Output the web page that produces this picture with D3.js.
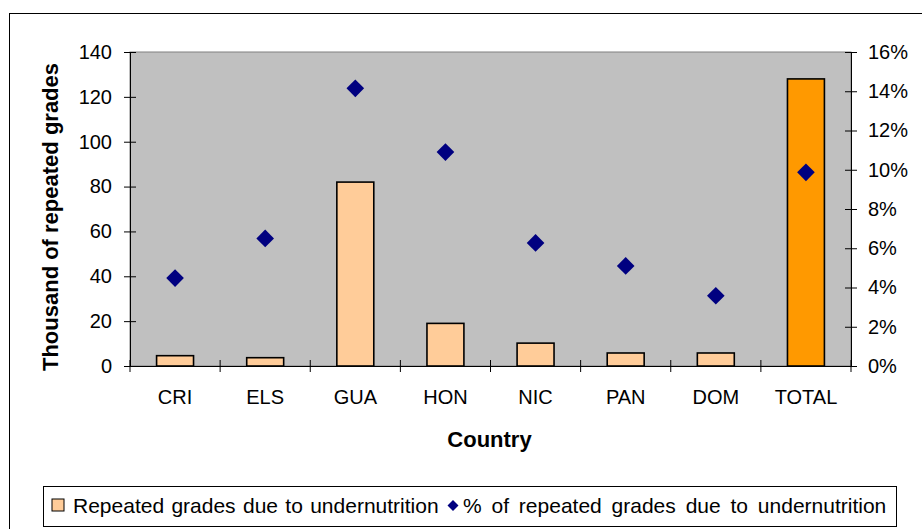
<!DOCTYPE html>
<html><head><meta charset="utf-8">
<script src="https://cdn.jsdelivr.net/npm/d3@7"></script>
<style>body{margin:0;background:#fff}text{font-family:"Liberation Sans",Arial,sans-serif}</style>
</head><body><svg id="c" width="922" height="529"></svg>
<script>
const categories = ["CRI","ELS","GUA","HON","NIC","PAN","DOM","TOTAL"];
const repeatedGrades = [4.6, 3.7, 82, 19, 10.2, 5.8, 5.8, 128];
const pctRepeated = [4.48, 6.5, 14.15, 10.9, 6.27, 5.1, 3.58, 9.87];
const leftTicks = [0,20,40,60,80,100,120,140];
const rightTicks = [0,2,4,6,8,10,12,14,16];

const svg = d3.select("#c");
const L=130, R=851, T=52, B=366;
svg.append("rect").attr("x",9.5).attr("y",13.5).attr("width",930).attr("height",530)
  .attr("fill","#fff").attr("stroke","#000").attr("stroke-width",1);
svg.append("rect").attr("x",L).attr("y",T).attr("width",R-L).attr("height",B-T)
  .attr("fill","#c0c0c0").attr("stroke","#808080");

const x = d3.scaleBand().domain(categories).range([L,R]).paddingInner(0.59).paddingOuter(0.295);
const xOuter = d3.scaleBand().domain(categories).range([L,R]);
const y = d3.scaleLinear().domain([0,140]).range([B,T]);
const y2 = d3.scaleLinear().domain([0,16]).range([B,T]);

svg.selectAll(".bar").data(categories).enter().append("rect")
  .attr("x",d=>x(d)).attr("width",x.bandwidth())
  .attr("y",(d,i)=>y(repeatedGrades[i])).attr("height",(d,i)=>B-y(repeatedGrades[i]))
  .attr("fill",d=>d==="TOTAL"?"#ff9900":"#ffcc99").attr("stroke","#000").attr("stroke-width",1.6);

svg.selectAll(".pt").data(categories).enter().append("path")
  .attr("d", d3.symbol().type(d3.symbolSquare).size(156))
  .attr("transform",(d,i)=>`translate(${xOuter(d)+xOuter.bandwidth()/2},${y2(pctRepeated[i])}) rotate(45)`)
  .attr("fill","#000080");

const fs="20px";
const ax = svg.append("g").attr("transform",`translate(${L},0)`)
  .call(d3.axisLeft(y).tickValues(leftTicks).tickSize(6).tickSizeOuter(0).tickPadding(12));
ax.selectAll("text").style("font-size",fs).attr("fill","#000");
ax.selectAll(".tick line").attr("x2",6).attr("x1",-6);
const ar = svg.append("g").attr("transform",`translate(${R},0)`)
  .call(d3.axisRight(y2).tickValues(rightTicks).tickFormat(d=>d+"%").tickSize(6).tickSizeOuter(0).tickPadding(11));
ar.selectAll("text").style("font-size",fs).attr("fill","#000");
ar.selectAll(".tick line").attr("x1",-6).attr("x2",6);
const axb = svg.append("g").attr("transform",`translate(0,${B})`)
  .call(d3.axisBottom(xOuter).tickSize(0));
axb.selectAll("text").style("font-size",fs).attr("fill","#000").attr("y",38).attr("dy",0);
const sep = d3.range(categories.length+1).map(i=>L+i*(R-L)/categories.length);
svg.selectAll(".sep").data(sep).enter().append("line")
  .attr("x1",d=>d).attr("x2",d=>d).attr("y1",B-6).attr("y2",B+6).attr("stroke","#000");
svg.selectAll(".domain").attr("stroke","#000");

svg.append("text").attr("x",(L+R)/2-1).attr("y",447).attr("text-anchor","middle")
  .style("font-size","22px").style("font-weight","bold").text("Country");
svg.append("text").attr("transform",`translate(58,217) rotate(-90)`).attr("text-anchor","middle")
  .style("font-size","22px").style("font-weight","bold").text("Thousand of repeated grades");

const lg = svg.append("g");
lg.append("rect").attr("x",43.5).attr("y",486.5).attr("width",853).attr("height",40)
  .attr("fill","#fff").attr("stroke","#000");
lg.append("rect").attr("x",52).attr("y",499).attr("width",12).attr("height",12)
  .attr("fill","#ffcc99").attr("stroke","#000");
lg.append("text").attr("x",73).attr("y",513).style("font-size","21px").style("word-spacing","1.5px").text("Repeated grades due to undernutrition");
lg.append("path").attr("d",d3.symbol().type(d3.symbolSquare).size(60)).attr("transform","translate(453,505.5) rotate(45)").attr("fill","#000080");
lg.append("text").attr("x",463).attr("y",513).style("font-size","21px").style("word-spacing","4px").text("% of repeated grades due to undernutrition");
</script></body></html>
